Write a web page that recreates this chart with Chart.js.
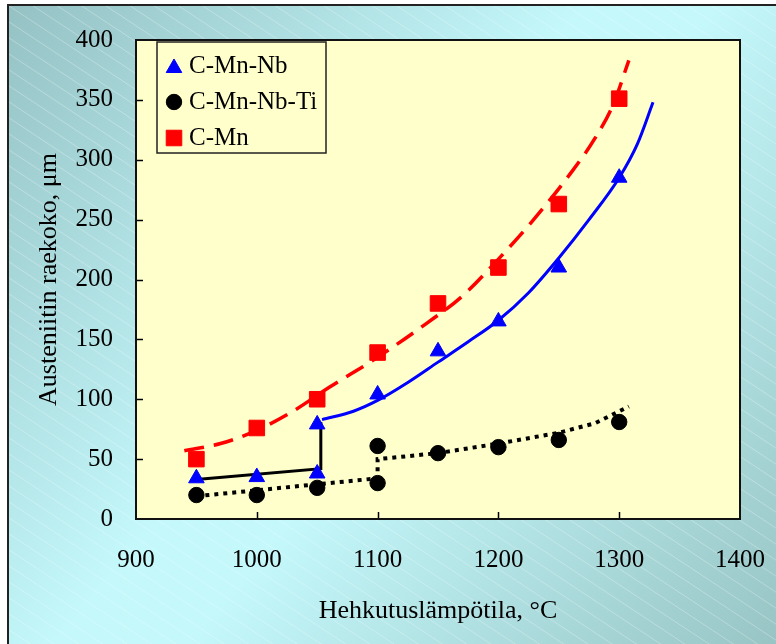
<!DOCTYPE html>
<html><head><meta charset="utf-8">
<script src="https://cdn.jsdelivr.net/npm/chart.js@4.4.1/dist/chart.umd.min.js"></script>
<style>html,body{margin:0;padding:0;background:#fff;}canvas{display:block;}</style>
</head><body>
<canvas id="c" width="776" height="644"></canvas>
<script>
// ---- data ----
const xTickValues = [900, 1000, 1100, 1200, 1300, 1400];
const yTickValues = [0, 50, 100, 150, 200, 250, 300, 350, 400];
const seriesNames = ['C-Mn-Nb', 'C-Mn-Nb-Ti', 'C-Mn'];
const xTitle = 'Hehkutuslämpötila, °C';
const yTitle = 'Austeniitin raekoko, μm';

// measured points
const nbX = [950, 1000, 1050, 1050, 1100, 1150, 1200, 1250, 1300];
const nbY = [34, 35, 38, 79, 104, 140, 165, 210, 285];
const tiX = [950, 1000, 1050, 1100, 1100, 1150, 1200, 1250, 1300];
const tiY = [20, 20, 26, 30, 61, 55, 60, 66, 81];
const mnX = [950, 1000, 1050, 1100, 1150, 1200, 1250, 1300];
const mnY = [50, 76, 100, 139, 180, 210, 263, 351];

// trend lines
const mnFitX = [940, 970, 1000, 1030, 1060, 1100, 1140, 1170, 1200, 1230, 1260, 1280, 1295, 1308];
const mnFitY = [57, 63, 74, 90, 110, 135, 163, 186, 217, 251, 289, 318, 346, 383];
const nbFitX = [1054, 1080, 1100, 1125, 1150, 1175, 1200, 1225, 1250, 1275, 1300, 1315, 1328];
const nbFitY = [83, 90, 99, 114, 131, 148, 166, 189, 218, 250, 285, 313, 348];
const nbLowX = [950, 1053, 1053];
const nbLowY = [33, 42, 81];
const tiFitX = [950, 1000, 1050, 1100, 1100, 1150, 1200, 1250, 1280, 1308];
const tiFitY = [19, 24, 29, 34, 50, 55, 63, 72, 80, 94];

const pts = (xs, ys) => xs.map((x, i) => ({x: x, y: ys[i]}));

const FONT = 'Liberation Serif';
const AREA = {left: 136, right: 740, top: 40, bottom: 519};

const bgPlugin = {
  id: 'bg',
  beforeDraw(chart) {
    const {ctx, width, height, chartArea: ca} = chart;
    ctx.save();
    ctx.fillStyle = '#ffffff';
    ctx.fillRect(0, 0, width, height);
    const g = ctx.createLinearGradient(0, 0, width, height);
    g.addColorStop(0, '#94c0c2');
    g.addColorStop(0.45, '#c4f8fb');
    g.addColorStop(0.55, '#c4f8fb');
    g.addColorStop(1, '#98c4c4');
    ctx.fillStyle = g;
    ctx.fillRect(8, 5, width - 8, height - 5);
    ctx.beginPath();
    ctx.rect(9, 6, width - 9, height - 6);
    ctx.clip();
    ctx.strokeStyle = 'rgba(255,255,255,0.28)';
    ctx.lineWidth = 1;
    for (let b = -560; b < height; b += 16) {
      ctx.beginPath();
      ctx.moveTo(0, b);
      ctx.lineTo(width, b + 0.66 * width);
      ctx.stroke();
    }
    ctx.restore();
    ctx.save();
    ctx.fillStyle = '#222';
    ctx.fillRect(7, 4, width - 7, 2);
    ctx.fillRect(7, 4, 2, height - 4);
    ctx.fillStyle = '#ffffcc';
    ctx.fillRect(ca.left, ca.top, ca.right - ca.left, ca.bottom - ca.top);
    ctx.restore();
  },
  afterDraw(chart) {
    const {ctx, chartArea: ca, scales} = chart;
    ctx.save();
    ctx.strokeStyle = '#000';
    ctx.lineWidth = 1.5;
    ctx.beginPath();
    xTickValues.slice(1, -1).forEach(v => {
      const px = Math.round(scales.x.getPixelForValue(v)) + 0.5;
      ctx.moveTo(px, ca.bottom);
      ctx.lineTo(px, ca.bottom - 7);
    });
    yTickValues.slice(1, -1).forEach(v => {
      const py = Math.round(scales.y.getPixelForValue(v)) + 0.5;
      ctx.moveTo(ca.left, py);
      ctx.lineTo(ca.left + 7, py);
    });
    ctx.stroke();
    ctx.strokeStyle = '#111';
    ctx.lineWidth = 2;
    ctx.strokeRect(ca.left, ca.top, ca.right - ca.left, ca.bottom - ca.top);
    // legend
    const lx = 157, ly = 42, lw = 169, lh = 111;
    ctx.fillStyle = '#ffffcc';
    ctx.fillRect(lx, ly, lw, lh);
    ctx.strokeStyle = '#222';
    ctx.lineWidth = 1.5;
    ctx.strokeRect(lx, ly, lw, lh);
    const rows = [66, 102, 138];
    const styles = [
      {style: 'triangle', r: 9, color: '#0000ff', dy: 2},
      {style: 'circle', r: 7.7, color: '#000000', dy: 0},
      {style: 'rect', r: 11, color: '#ff0000', dy: 0}
    ];
    rows.forEach((y, i) => {
      const s = styles[i];
      ctx.fillStyle = s.color;
      ctx.strokeStyle = s.color;
      ctx.lineWidth = 1;
      Chart.helpers.drawPoint(ctx, {pointStyle: s.style, radius: s.r, borderWidth: 1, rotation: 0}, 174, y + s.dy);
      ctx.fillStyle = '#000';
      ctx.font = '25px "' + FONT + '"';
      ctx.textAlign = 'left';
      ctx.textBaseline = 'middle';
      ctx.fillText(seriesNames[i], 189, y);
    });
    ctx.restore();
  }
};

new Chart(document.getElementById('c'), {
  type: 'scatter',
  data: {
    datasets: [
      {label: seriesNames[0], data: pts(nbX, nbY), pointStyle: 'triangle', pointRadius: 9,
       backgroundColor: '#0000ff', borderColor: '#0000ff', borderWidth: 1, showLine: false, order: 1},
      {label: seriesNames[1], data: pts(tiX, tiY), pointStyle: 'circle', pointRadius: 7.7,
       backgroundColor: '#000000', borderColor: '#000000', borderWidth: 1, showLine: false, order: 1},
      {label: seriesNames[2], data: pts(mnX, mnY), pointStyle: 'rect', pointRadius: 11,
       backgroundColor: '#ff0000', borderColor: '#ff0000', borderWidth: 1, showLine: false, order: 1},
      {label: 'mnFit', data: pts(mnFitX, mnFitY), showLine: true, pointRadius: 0, borderColor: '#ff0000',
       borderWidth: 3.5, borderDash: [20, 10], cubicInterpolationMode: 'monotone', order: 5},
      {label: 'nbFit', data: pts(nbFitX, nbFitY), showLine: true, pointRadius: 0, borderColor: '#0000ff',
       borderWidth: 3, cubicInterpolationMode: 'monotone', order: 5},
      {label: 'nbLow', data: pts(nbLowX, nbLowY), showLine: true, pointRadius: 0, borderColor: '#000000',
       borderWidth: 3, tension: 0, order: 5},
      {label: 'tiFit', data: pts(tiFitX, tiFitY), showLine: true, pointRadius: 0, borderColor: '#000000',
       borderWidth: 4, borderDash: [4, 5], tension: 0, order: 5}
    ]
  },
  options: {
    responsive: false,
    animation: false,
    devicePixelRatio: 1,
    layout: {padding: {left: 10, right: 776 - AREA.right, top: AREA.top, bottom: 0}},
    plugins: {legend: {display: false}, tooltip: {enabled: false}},
    scales: {
      x: {
        type: 'linear', min: 900, max: 1400,
        afterBuildTicks: s => { s.ticks = xTickValues.map(v => ({value: v})); },
        afterFit: s => { s.height = 644 - AREA.bottom; s.paddingLeft = 0; s.paddingRight = 0; },
        grid: {display: false, drawTicks: false},
        border: {display: false},
        ticks: {color: '#000', padding: 26, font: {family: FONT, size: 25}, maxRotation: 0, autoSkip: false,
                callback: v => String(v)},
        title: {display: true, text: xTitle, color: '#000', font: {family: FONT, size: 26}, padding: {top: 0, bottom: 17}}
      },
      y: {
        type: 'linear', min: 0, max: 400,
        afterBuildTicks: s => { s.ticks = yTickValues.map(v => ({value: v})); },
        afterFit: s => { s.width = AREA.left - 10; s.paddingTop = 0; s.paddingBottom = 0; },
        grid: {display: false, drawTicks: false},
        border: {display: false},
        ticks: {color: '#000', padding: 23, font: {family: FONT, size: 25}, autoSkip: false,
                callback: v => String(v)},
        title: {display: true, text: yTitle, color: '#000', font: {family: FONT, size: 26}, padding: {top: 24, bottom: 0}}
      }
    }
  },
  plugins: [bgPlugin]
});
</script>
</body></html>
